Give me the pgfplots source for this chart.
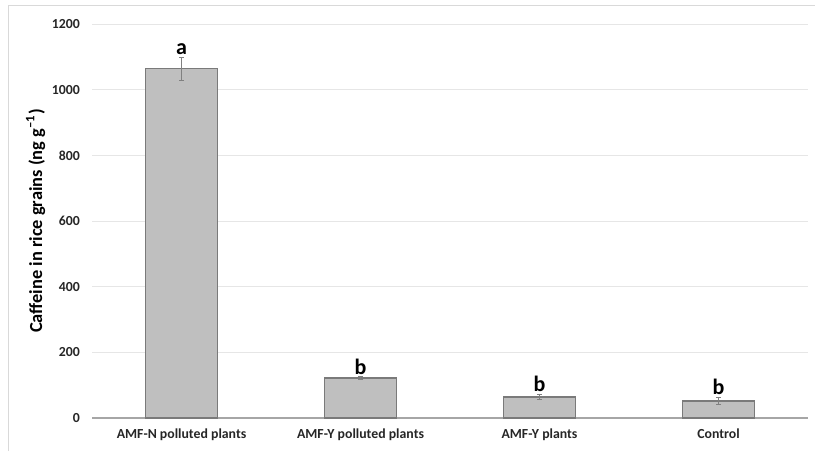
\documentclass[border=0pt]{standalone}
\usepackage{fontspec}
\setmainfont{Carlito}
\usepackage{pgfplots}
\pgfplotsset{compat=1.18}
\definecolor{barfill}{HTML}{BFBFBF}
\definecolor{baredge}{HTML}{7A7A7A}
\definecolor{gridc}{HTML}{E6E6E6}
\definecolor{axisc}{HTML}{A6A6A6}
\begin{document}
\begin{tikzpicture}
\useasboundingbox (0pt,0pt) rectangle (407.5pt,225.5pt);
\draw[gray!30, line width=0.5pt] (4pt,0pt) -- (4pt,222.5pt) -- (407.5pt,222.5pt);
\begin{axis}[
  at={(90.75pt,16.5pt)}, anchor=origin,
  scale only axis, width=358pt, height=197pt,
  xmin=-0.5, xmax=3.5, ymin=0, ymax=1200,
  ytick={0,200,...,1200},
  xtick={0,1,2,3},
  xticklabels={AMF-N polluted plants, AMF-Y polluted plants, AMF-Y plants, Control},
  axis x line=bottom, axis y line=left,
  x axis line style={-, draw=axisc, line width=0.6pt},
  y axis line style={draw=none},
  major tick length=0pt,
  ymajorgrids, grid style={draw=gridc, line width=0.5pt},
  /pgf/number format/assume math mode=true,
  /pgf/number format/1000 sep={},
  tick label style={font=\bfseries\fontsize{6.9}{8}\selectfont, text=black!85},
  yticklabel style={xshift=-2.5pt},
  xticklabel style={yshift=-2pt},
  ylabel={\bfseries Caffeine in rice grains (ng g\textsuperscript{--1})},
  ylabel style={font=\fontsize{9.2}{11}\selectfont, yshift=-3.5pt},
]
\addplot[ybar, bar width=0.4, fill=barfill, draw=baredge, line width=0.7pt,
  error bars/.cd, y dir=both, y explicit,
  error bar style={draw=gray, line width=0.4pt},
  error mark options={rotate=90, mark size=1.3pt, draw=gray}]
  coordinates {
  (0,1064) +- (0,35)
  (1,122) +- (0,4)
  (2,64) +- (0,8)
  (3,52) +- (0,12)
  };
\addplot[draw=none, mark=none, nodes near coords, point meta=explicit symbolic,
  nodes near coords style={anchor=south, inner sep=1pt, font=\bfseries\fontsize{11}{12}\selectfont}]
  coordinates {(0,1100)[a] (1,126)[b] (2,72)[b] (3,64)[b]};
\end{axis}
\end{tikzpicture}
\end{document}
